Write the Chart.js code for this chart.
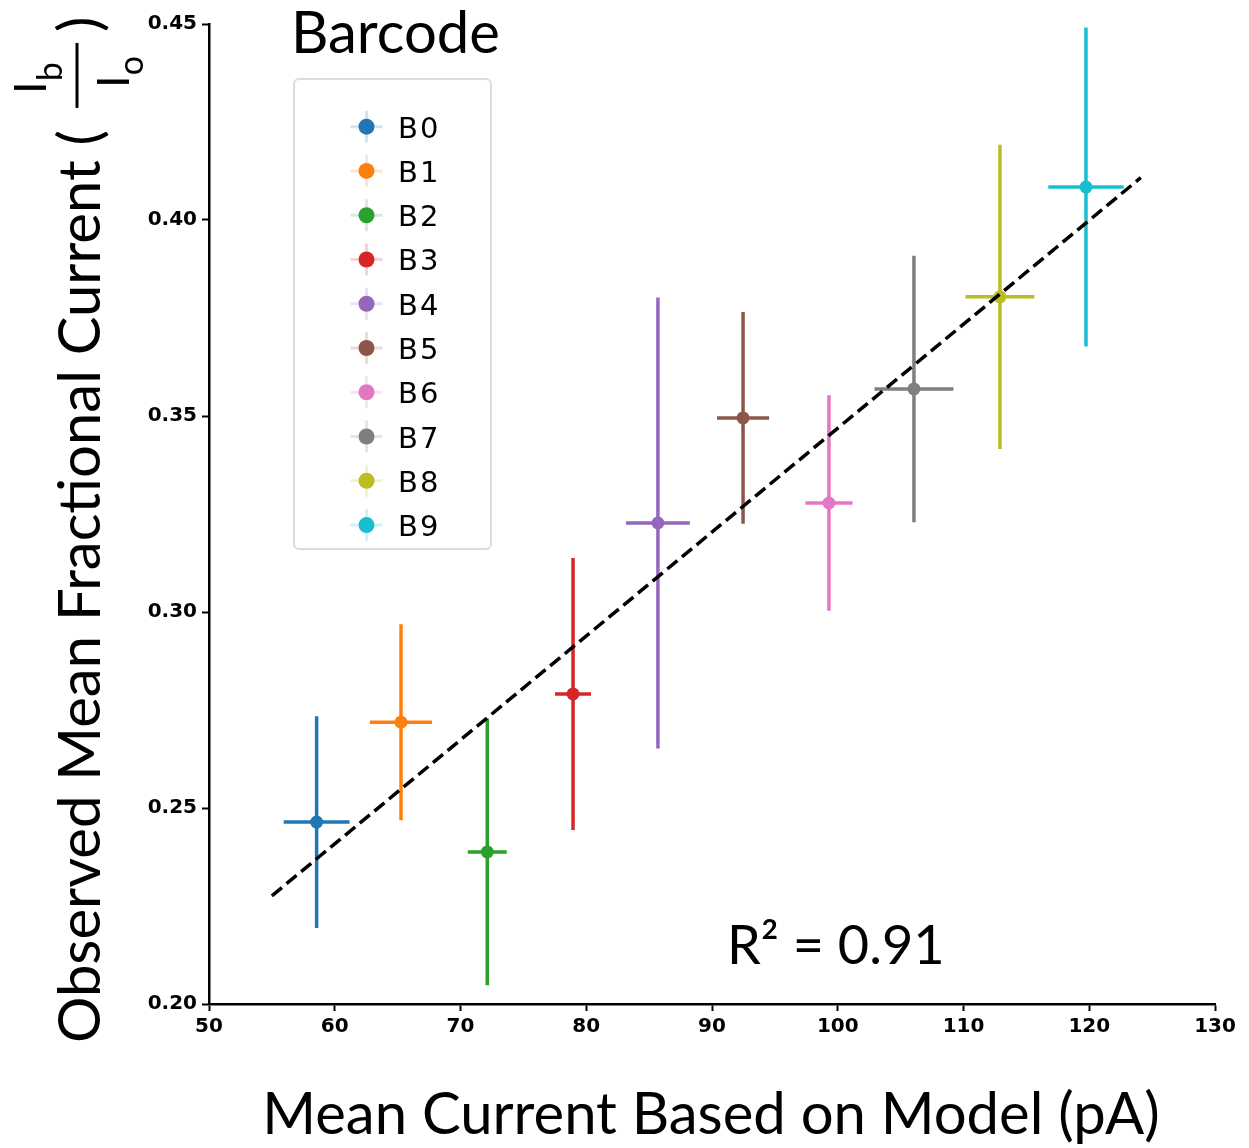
<!DOCTYPE html>
<html>
<head>
<meta charset="utf-8">
<script src="https://cdn.jsdelivr.net/npm/chart.js@4.4.0/dist/chart.umd.min.js"></script>
<style>
  html, body { margin: 0; padding: 0; background: #fff; }
  #wrap { width: 1249px; height: 1148px; position: relative; }
</style>
</head>
<body>
<div id="wrap"><canvas id="chart"></canvas></div>
<script>
// Barcode names and their colours
const barcodes = ["B0", "B1", "B2", "B3", "B4", "B5", "B6", "B7", "B8", "B9"];
const colors = ["#1f77b4", "#ff7f0e", "#2ca02c", "#d62728", "#9467bd",
                "#8c564b", "#e377c2", "#7f7f7f", "#bcbd22", "#17becf"];

// Mean current from the model (pA) and its spread
const modelCurrent = [58.56, 65.27, 72.13, 78.95, 85.7, 92.47, 99.3, 106.06, 112.9, 119.74];
const modelError = [2.62, 2.47, 1.55, 1.43, 2.54, 2.07, 1.87, 3.14, 2.74, 3.0];

// Observed mean fractional current Ib/Io and its spread
const fracCurrent = [0.2464, 0.2719, 0.2388, 0.2791, 0.3227, 0.3495, 0.3278, 0.3569, 0.3804, 0.4084];
const fracError = [0.027, 0.025, 0.034, 0.0347, 0.0575, 0.027, 0.0275, 0.034, 0.0388, 0.0407];

// Linear fit endpoints
const fitX = [55.0, 124.1];
const fitY = [0.2276, 0.4108];

// Axis ticks
const xTicks = [50, 60, 70, 80, 90, 100, 110, 120, 130];
const yTicks = [0.20, 0.25, 0.30, 0.35, 0.40, 0.45];

const xTitle = "Mean Current Based on Model (pA)";
const yTitle = "Observed Mean Fractional Current (";
const legendTitle = "Barcode";
const rSquared = "R\u00b2 = 0.91";

const titleFont = '58px "Lato"';
const tickFont = { family: "DejaVu Sans", size: 20, weight: "bold" };

// Fit line goes first so it is drawn on top of the points
const datasets = [{
  type: "line",
  label: "fit",
  data: fitX.map((x, i) => ({ x: x, y: fitY[i] })),
  borderColor: "#000",
  borderWidth: 3.5,
  borderDash: [13, 6],
  pointRadius: 0,
  fill: false
}];
barcodes.forEach((name, i) => {
  datasets.push({
    type: "scatter",
    label: name,
    data: [{ x: modelCurrent[i], y: fracCurrent[i] }],
    backgroundColor: colors[i],
    borderColor: colors[i],
    pointRadius: 6.5,
    pointHoverRadius: 6.5,
    borderWidth: 0
  });
});

// Error bars, drawn under the points
const errorBars = {
  id: "errorBars",
  beforeDatasetsDraw(chart) {
    const ctx = chart.ctx;
    const xs = chart.scales.x, ys = chart.scales.y;
    ctx.save();
    ctx.lineWidth = 3.5;
    barcodes.forEach((name, i) => {
      const cx = xs.getPixelForValue(modelCurrent[i]);
      const cy = ys.getPixelForValue(fracCurrent[i]);
      ctx.strokeStyle = colors[i];
      ctx.beginPath();
      ctx.moveTo(xs.getPixelForValue(modelCurrent[i] - modelError[i]), cy);
      ctx.lineTo(xs.getPixelForValue(modelCurrent[i] + modelError[i]), cy);
      ctx.moveTo(cx, ys.getPixelForValue(fracCurrent[i] + fracError[i]));
      ctx.lineTo(cx, ys.getPixelForValue(fracCurrent[i] - fracError[i]));
      ctx.stroke();
    });
    ctx.restore();
  }
};

// Axis titles, legend box and R² note
const annotations = {
  id: "annotations",
  afterDraw(chart) {
    const ctx = chart.ctx;
    ctx.save();
    ctx.fillStyle = "#000";
    ctx.textBaseline = "alphabetic";

    // x title
    ctx.font = titleFont;
    ctx.textAlign = "center";
    ctx.fillText(xTitle, 711, 1134);

    // y title with the Ib/Io fraction
    ctx.save();
    ctx.translate(100, 1043);
    ctx.rotate(-Math.PI / 2);
    ctx.textAlign = "left";
    ctx.font = titleFont;
    ctx.fillText(yTitle, 0, 0);
    const start = ctx.measureText(yTitle).width + 22;
    ctx.fillRect(start, -24.5, 65, 3);
    ctx.font = '45px "Lato"';
    const iw = ctx.measureText("I").width;
    ctx.fillText("I", start + 14, -54);
    ctx.fillText("I", start + 20, 29);
    ctx.font = '34px "Lato"';
    ctx.fillText("b", start + 14 + iw, -38);
    ctx.fillText("o", start + 20 + iw, 43);
    ctx.font = titleFont;
    ctx.fillText(")", start + 76, 0);
    ctx.restore();

    // R² note
    ctx.font = '54px "Lato"';
    ctx.textAlign = "left";
    ctx.fillText(rSquared, 727, 964);

    // legend
    ctx.font = '58px "Lato"';
    ctx.fillText(legendTitle, 291, 53);
    ctx.beginPath();
    ctx.roundRect(294, 79, 197, 470, 5);
    ctx.fillStyle = "rgba(255,255,255,0.8)";
    ctx.fill();
    ctx.strokeStyle = "#dcdcdc";
    ctx.lineWidth = 2;
    ctx.stroke();
    const mx = 366.5;
    barcodes.forEach((name, i) => {
      const my = 126.7 + i * 44.26;
      ctx.globalAlpha = 0.2;
      ctx.strokeStyle = colors[i];
      ctx.lineWidth = 3;
      ctx.beginPath();
      ctx.moveTo(mx - 16, my); ctx.lineTo(mx + 16, my);
      ctx.moveTo(mx, my - 16); ctx.lineTo(mx, my + 16);
      ctx.stroke();
      ctx.globalAlpha = 1;
      ctx.fillStyle = colors[i];
      ctx.beginPath();
      ctx.arc(mx, my, 8, 0, Math.PI * 2);
      ctx.fill();
      ctx.fillStyle = "#000";
      ctx.font = '29px "DejaVu Sans"';
      ctx.letterSpacing = "2px";
      ctx.fillText(name, 398, my + 11);
      ctx.letterSpacing = "0px";
    });
    ctx.restore();
  }
};

new Chart(document.getElementById("chart"), {
  data: { datasets: datasets },
  options: {
    responsive: true,
    maintainAspectRatio: false,
    animation: false,
    layout: { padding: { left: 0, top: 24, right: 34, bottom: 0 } },
    plugins: {
      legend: { display: false },
      tooltip: { enabled: false }
    },
    scales: {
      x: {
        type: "linear",
        min: xTicks[0],
        max: xTicks[xTicks.length - 1],
        afterFit(scale) { scale.height = 144; },
        afterBuildTicks(scale) { scale.ticks = xTicks.map(v => ({ value: v })); },
        grid: { drawOnChartArea: false, drawTicks: true, tickLength: 7, tickWidth: 2, color: "#000" },
        border: { display: true, color: "#000", width: 2.5 },
        ticks: { color: "#000", font: tickFont, padding: 4, maxRotation: 0, callback: v => String(v) }
      },
      y: {
        type: "linear",
        min: yTicks[0],
        max: yTicks[yTicks.length - 1],
        afterFit(scale) { scale.width = 209; },
        afterBuildTicks(scale) { scale.ticks = yTicks.map(v => ({ value: v })); },
        grid: { drawOnChartArea: false, drawTicks: true, tickLength: 7, tickWidth: 2, color: "#000" },
        border: { display: true, color: "#000", width: 2.5 },
        ticks: { color: "#000", font: tickFont, padding: 5, callback: v => v.toFixed(2) }
      }
    }
  },
  plugins: [errorBars, annotations]
});
</script>
</body>
</html>
